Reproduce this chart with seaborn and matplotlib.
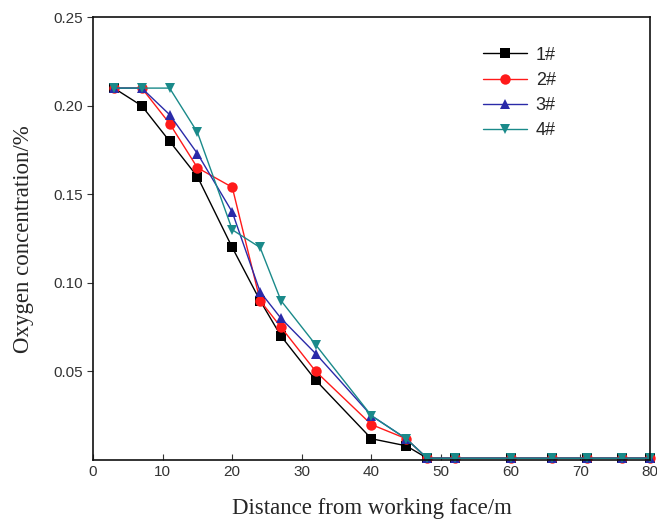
import matplotlib
matplotlib.use("Agg")
import matplotlib.pyplot as plt
import pandas as pd
import seaborn as sns

# distance from working face (m)
distance = [3, 7, 11, 15, 20, 24, 27, 32, 40, 45, 48, 52, 60, 66, 71, 76, 80]

# oxygen concentration per monitoring line
o2_1 = [0.21, 0.20, 0.18, 0.16, 0.12, 0.09, 0.07, 0.045, 0.012, 0.008,
        0.001, 0.001, 0.001, 0.001, 0.001, 0.001, 0.001]
o2_2 = [0.21, 0.21, 0.19, 0.165, 0.154, 0.09, 0.075, 0.05, 0.02, 0.012,
        0.001, 0.001, 0.001, 0.001, 0.001, 0.001, 0.001]
o2_3 = [0.21, 0.21, 0.195, 0.173, 0.14, 0.095, 0.08, 0.06, 0.025, 0.012,
        0.001, 0.001, 0.001, 0.001, 0.001, 0.001, 0.001]
o2_4 = [0.21, 0.21, 0.21, 0.185, 0.13, 0.12, 0.09, 0.065, 0.025, 0.012,
        0.001, 0.001, 0.001, 0.001, 0.001, 0.001, 0.001]

names = ["1#", "2#", "3#", "4#"]
series = [o2_1, o2_2, o2_3, o2_4]

rows = []
for name, vals in zip(names, series):
    for d, v in zip(distance, vals):
        rows.append({"distance": d, "o2": v, "line": name})
df = pd.DataFrame(rows)

sns.set_style("ticks")
plt.rcParams["font.family"] = ["Liberation Sans", "DejaVu Sans"]

fig = plt.figure(figsize=(6.57, 5.2), dpi=100)
ax = fig.add_axes([0.1416, 0.1154, 0.8476, 0.8514])

colors = {"1#": "#000000", "2#": "#ff1a1a", "3#": "#2a2aa8", "4#": "#1a8a8a"}
markers = {"1#": "s", "2#": "o", "3#": "^", "4#": "v"}

sns.lineplot(
    data=df, x="distance", y="o2", hue="line", style="line",
    palette=colors, markers=markers, dashes=False,
    markersize=7.5, markeredgewidth=0, linewidth=1, ax=ax,
)
for ln in ax.lines:
    ln.set_clip_on(False)

ax.set_xlim(0, 80)
ax.set_ylim(0, 0.25)
ax.set_xticks(range(0, 81, 10))
ax.set_yticks([0.05, 0.10, 0.15, 0.20, 0.25])
ax.set_yticklabels(["0.05", "0.10", "0.15", "0.20", "0.25"])
ax.tick_params(axis="x", direction="in", length=4, labelsize=11, colors="#333333")
ax.tick_params(axis="y", direction="out", length=4, labelsize=11, colors="#333333")
for s in ax.spines.values():
    s.set_visible(True)
    s.set_linewidth(1.2)
    s.set_color("#111111")

ax.set_xlabel("Distance from working face/m", family="Liberation Serif",
              fontsize=16.5, labelpad=14)
ax.set_ylabel("Oxygen concentration/%", family="Liberation Serif",
              fontsize=16.5, labelpad=14)

ax.legend(frameon=False, loc="upper right", bbox_to_anchor=(0.86, 0.97),
          fontsize=13, handlelength=2.4, handletextpad=0.5,
          labelspacing=0.45, title=None)

plt.savefig("out.png", dpi=100)
